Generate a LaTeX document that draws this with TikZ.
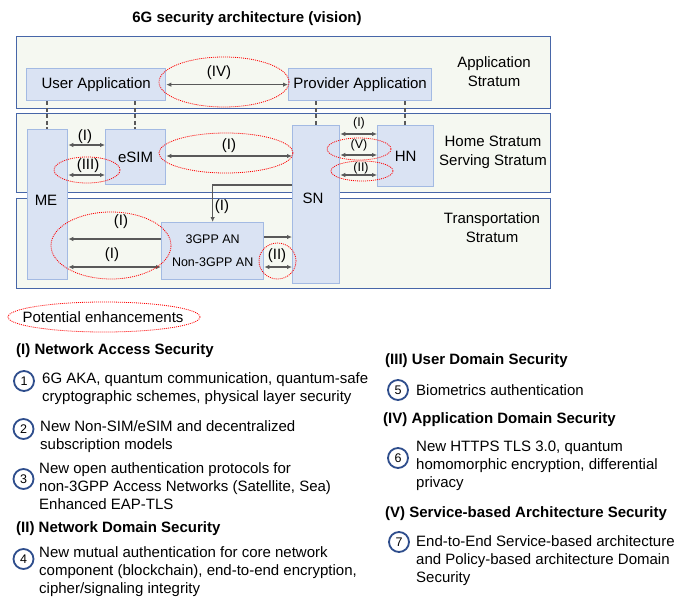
\documentclass[tikz,border=0pt]{standalone}
\usepackage{fontspec}
\setmainfont{Liberation Sans}
\usetikzlibrary{shapes.geometric,arrows.meta}

\definecolor{strataFill}{HTML}{F5F8F1}
\definecolor{strataLine}{HTML}{4766A8}
\definecolor{boxFill}{HTML}{DAE3F3}
\definecolor{boxLine}{HTML}{A3BAE3}
\definecolor{arrowGray}{HTML}{595959}
\definecolor{numBlue}{HTML}{2E4D8C}

\begin{document}
\begin{tikzpicture}[x=1pt,y=-1pt,
  stratum/.style={draw=strataLine, fill=strataFill, line width=1.1pt, anchor=north west, inner sep=0pt},
  entity/.style={draw=boxLine, fill=boxFill, line width=1.3pt, anchor=north west, inner sep=0pt, font=\fontsize{15}{18}\selectfont},
  lbl/.style={inner sep=0pt, font=\fontsize{15}{18}\selectfont},
  small/.style={inner sep=0pt, font=\fontsize{12.5}{15}\selectfont},
  link/.style={draw=arrowGray, line width=1.3pt, {Latex[length=5pt,width=4.5pt]}-{Latex[length=5pt,width=4.5pt]}},
  oneway/.style={draw=arrowGray, line width=1.3pt, -{Latex[length=5pt,width=4.5pt]}},
  tie/.style={draw=arrowGray, line width=1.2pt, dash pattern=on 4pt off 2.5pt},
  enh/.style={ellipse, draw=red, line width=0.8pt, dash pattern=on 1pt off 1pt, inner sep=0pt},
  num/.style={circle, draw=numBlue, line width=1.8pt, fill=white, minimum size=20pt, inner sep=0pt, font=\fontsize{12.5}{14}\selectfont},
  head/.style={anchor=west, inner sep=0pt, font=\bfseries\fontsize{15}{18}\selectfont},
  body/.style={anchor=west, inner sep=0pt, align=left, font=\fontsize{15}{18}\selectfont},
]
\useasboundingbox (0,0) rectangle (676,596);

% title
\node[inner sep=0pt, font=\bfseries\fontsize{15}{18}\selectfont] (title) at (247,19) {6G security architecture (vision)};

% strata
\node[stratum, minimum width=534pt, minimum height=72pt] (appS) at (16,36) {};
\node[stratum, minimum width=534pt, minimum height=79pt] (homeS) at (16,113) {};
\node[stratum, minimum width=534pt, minimum height=90pt] (transS) at (16,198) {};

\node[lbl, align=center, font=\fontsize{15}{19}\selectfont] (appTxt) at (494,71.5) {Application\\Stratum};
\node[lbl, align=center, font=\fontsize{15}{19}\selectfont] (homeTxt) at (493,152.5) {Home Stratum\\Serving Stratum};
\node[lbl, align=center, font=\fontsize{15}{19}\selectfont] (transTxt) at (492,228) {Transportation\\Stratum};

% entities
\node[entity, minimum width=139pt, minimum height=32pt] (userApp) at (26,68) {User Application};
\node[entity, minimum width=143pt, minimum height=32pt] (provApp) at (288,68) {Provider Application};
\node[entity, minimum width=40pt, minimum height=150pt] (ME) at (27,129) {};
\node[entity, minimum width=60pt, minimum height=55pt] (eSIM) at (105,129) {eSIM};
\node[entity, minimum width=47pt, minimum height=158pt] (SN) at (292,125) {};
\node[entity, minimum width=56pt, minimum height=61pt] (HN) at (377,125) {HN};
\node[entity, minimum width=102pt, minimum height=57pt, align=center, font=\fontsize{12.5}{23}\selectfont] (AN) at (161,222) {3GPP AN\\Non-3GPP AN};
\node[lbl] (meTxt) at (46,200) {ME};
\node[lbl] (snTxt) at (313,198) {SN};

% vertical ties between strata
\draw[tie] (userApp.south -| 47,0) -- (ME.north -| 47,0);
\draw[tie] (userApp.south -| 135,0) -- (eSIM.north -| 135,0);
\draw[tie] (provApp.south -| 316,0) -- (SN.north -| 316,0);
\draw[tie] (provApp.south -| 405,0) -- (HN.north -| 405,0);

% security links
\draw[link] (userApp.east) -- (provApp.west);
\draw[link] (ME.east |- 0,145) -- (eSIM.west |- 0,145);
\draw[link] (ME.east |- 0,175) -- (eSIM.west |- 0,175);
\draw[link] (eSIM.east |- 0,156) -- (SN.west |- 0,156);
\draw[link] (SN.east |- 0,134) -- (HN.west |- 0,134);
\draw[link] (SN.east |- 0,155) -- (HN.west |- 0,155);
\draw[link] (SN.east |- 0,175) -- (HN.west |- 0,175);
\draw[oneway] (SN.west |- 0,185) -| (AN.north);
\draw[oneway] (AN.west |- 0,239) -- (ME.east |- 0,239);
\draw[link] (ME.east |- 0,267) -- (AN.west |- 0,267);
\draw[oneway] (AN.east |- 0,237) -- (SN.west |- 0,237);
\draw[link] (AN.east |- 0,267) -- (SN.west |- 0,267);

% enhancement marks
\node[enh, minimum width=130pt, minimum height=50pt] (enhIV) at (224,82) {};
\node[enh, minimum width=66pt, minimum height=26pt] (enhIII) at (87,170) {};
\node[enh, minimum width=134pt, minimum height=40pt] (enhIsim) at (226,153) {};
\node[enh, minimum width=64pt, minimum height=22pt] (enhV) at (359,149) {};
\node[enh, minimum width=62pt, minimum height=20pt] (enhIIhn) at (362,171) {};
\node[enh, minimum width=120pt, minimum height=67pt] (enhIme) at (111,245.5) {};
\node[enh, minimum width=37pt, minimum height=36pt] (enhIIan) at (277.5,261) {};
\node[enh, minimum width=192pt, minimum height=30pt] (legend) at (104,317) {};
\node[lbl] (legendTxt) at (103,317) {Potential enhancements};

% link labels
\node[lbl] (lIV) at (219,73) {(IV)};
\node[lbl] (lI1) at (85,137) {(I)};
\node[lbl] (lIII) at (88,166) {(III)};
\node[lbl] (lI2) at (229,146) {(I)};
\node[small] (lI3) at (359,123) {(I)};
\node[small] (lV) at (359,145) {(V)};
\node[small] (lII1) at (361,168) {(II)};
\node[lbl] (lI4) at (222,207) {(I)};
\node[lbl] (lI5) at (121,222) {(I)};
\node[lbl] (lI6) at (112,255) {(I)};
\node[lbl] (lII2) at (277,256) {(II)};

% left column
\node[head] (h1) at (16,351) {(I) Network Access Security};
\node[num] (n1) at (24,381) {1};
\node[body] (t1) at (42,388.5) {6G AKA, quantum communication, quantum-safe\\cryptographic schemes, physical layer security};
\node[num] (n2) at (23.5,429) {2};
\node[body] (t2) at (40,436.5) {New Non-SIM/eSIM and decentralized\\subscription models};
\node[num] (n3) at (23.5,479) {3};
\node[body] (t3) at (39,486) {New open authentication protocols for\\non-3GPP Access Networks (Satellite, Sea)\\Enhanced EAP-TLS};
\node[head] (h2) at (16,529) {(II) Network Domain Security};
\node[num] (n4) at (23.5,559) {4};
\node[body] (t4) at (39,571.5) {New mutual authentication for core network\\component (blockchain), end-to-end encryption,\\cipher/signaling integrity};

% right column
\node[head] (h3) at (385,361) {(III) User Domain Security};
\node[num] (n5) at (398,390) {5};
\node[body] (t5) at (416,390) {Biometrics authentication};
\node[head] (h4) at (383,420) {(IV) Application Domain Security};
\node[num] (n6) at (398,458) {6};
\node[body] (t6) at (416,466) {New HTTPS TLS 3.0, quantum\\homomorphic encryption, differential\\privacy};
\node[head] (h5) at (385,514) {(V) Service-based Architecture Security};
\node[num] (n7) at (399,542) {7};
\node[body] (t7) at (416,561) {End-to-End Service-based architecture\\and Policy-based architecture Domain\\Security};
\end{tikzpicture}
\end{document}
